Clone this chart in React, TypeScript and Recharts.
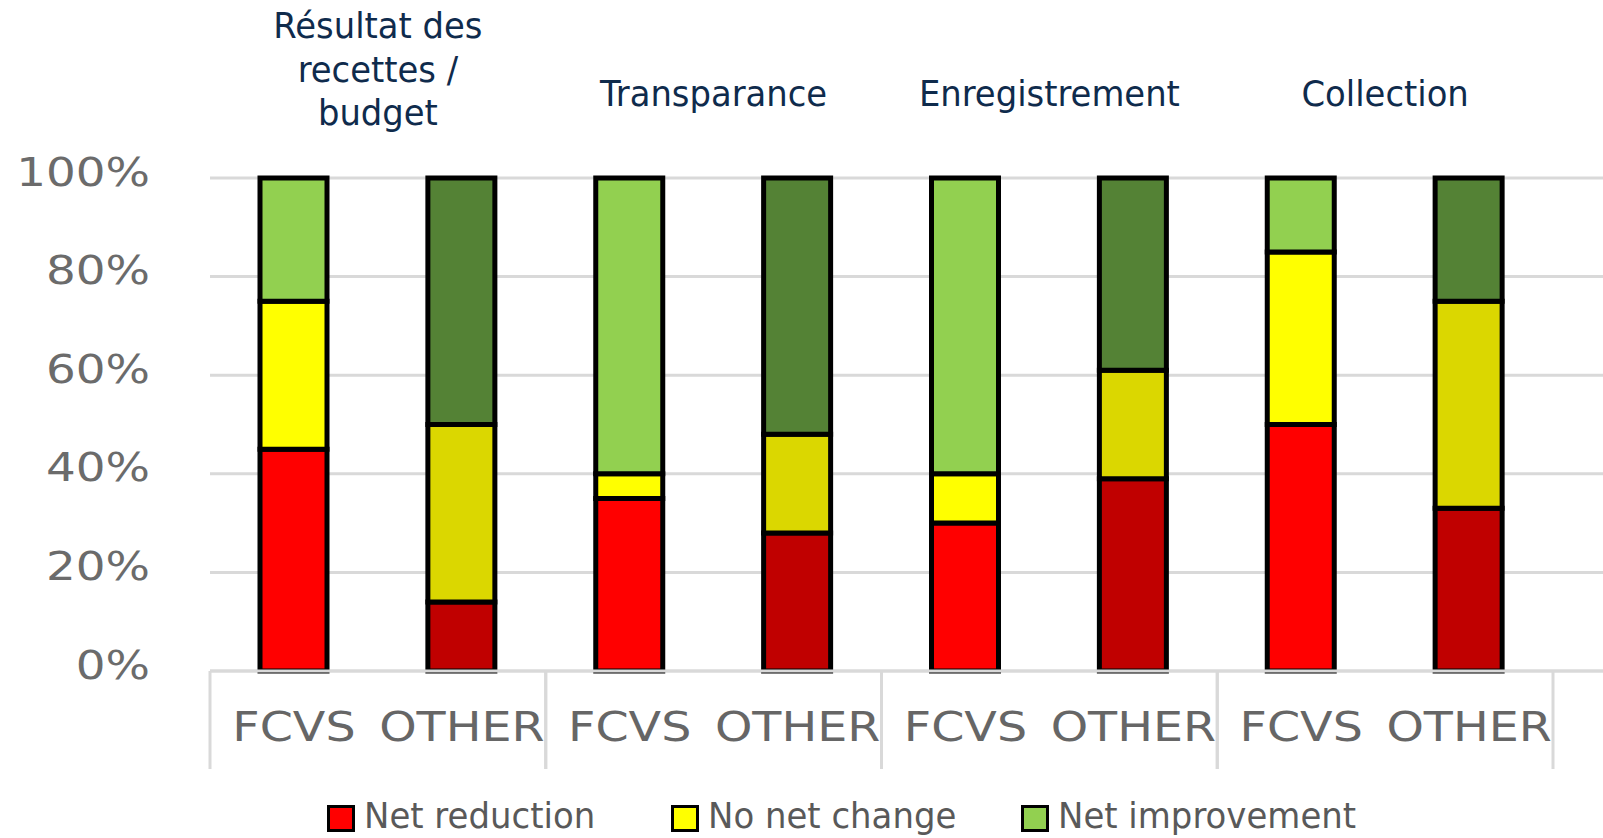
import React from "react";
import { BarChart, Bar, XAxis, YAxis, CartesianGrid, Cell } from "recharts";

// ---- data ----
const GROUP_TITLES: string[][] = [
  ["Résultat des", "recettes /", "budget"],
  ["Transparance"],
  ["Enregistrement"],
  ["Collection"],
];
const SUB_LABELS = ["FCVS", "OTHER"];
const NET_REDUCTION = [45, 14, 35, 28, 30, 39, 50, 33];
const NO_NET_CHANGE = [30, 36, 5, 20, 10, 22, 35, 42];
const NET_IMPROVEMENT = [25, 50, 60, 52, 60, 39, 15, 25];
const Y_TICKS = [0, 20, 40, 60, 80, 100];

const SERIES = [
  { key: "reduction", name: "Net reduction", values: NET_REDUCTION, colors: ["#FF0000", "#C00000"] },
  { key: "nochange", name: "No net change", values: NO_NET_CHANGE, colors: ["#FFFF00", "#DBD700"] },
  { key: "improvement", name: "Net improvement", values: NET_IMPROVEMENT, colors: ["#92D050", "#548235"] },
];

const data = GROUP_TITLES.flatMap((_, gi) =>
  SUB_LABELS.map((sub, si) => {
    const i = gi * SUB_LABELS.length + si;
    const row: any = { id: `${gi}-${sub}`, group: gi, sub, subIndex: si };
    SERIES.forEach((s) => (row[s.key] = s.values[i]));
    return row;
  })
);

// ---- layout ----
const W = 1603;
const H = 838;
const AXIS_Y = 671;
const GRID = "#D9D9D9";
const FONT = "'DejaVu Sans', sans-serif";

const XTick = (props: any) => {
  const { x, index, payload } = props;
  const d = data[index];
  if (!d) return null;
  const half = payload && payload.offset ? payload.offset : 84;
  const titles = GROUP_TITLES[d.group];
  const firstBaseline = titles.length === 1 ? 106 : 38;
  return (
    <g>
      <text
        transform={`translate(${x},741) scale(1.16,1)`}
        textAnchor="middle"
        fontFamily={FONT}
        fontSize={41}
        fill="#666666"
      >
        {d.sub}
      </text>
      {d.subIndex === 0 && (
        <line x1={x - half} x2={x - half} y1={AXIS_Y} y2={769} stroke={GRID} strokeWidth={3} />
      )}
      {d.subIndex === SUB_LABELS.length - 1 && (
        <line x1={x + half} x2={x + half} y1={AXIS_Y} y2={769} stroke={GRID} strokeWidth={3} />
      )}
      {d.subIndex === 0 &&
        titles.map((t, li) => (
          <text
            key={li}
            transform={`translate(${x + half},${firstBaseline + li * 43.5}) scale(0.94,1)`}
            textAnchor="middle"
            fontFamily={FONT}
            fontSize={36}
            fill="#0F2B4C"
          >
            {t}
          </text>
        ))}
    </g>
  );
};

const YTick = (props: any) => {
  const { y, payload } = props;
  return (
    <text
      transform={`translate(150,${y + 7.5}) scale(1.2,1)`}
      textAnchor="end"
      fontFamily={FONT}
      fontSize={39}
      fill="#6B6B6B"
    >
      {`${payload.value}%`}
    </text>
  );
};

const LEGEND_X = [327, 671, 1021];

export default function App() {
  return (
    <div style={{ position: "relative", width: W, height: H }}>
      <style>{`body{margin:0}`}</style>
      <BarChart
        width={W}
        height={H}
        data={data}
        margin={{ top: 178, right: 0, bottom: 0, left: 0 }}
        barSize={67}
      >
        <CartesianGrid horizontal vertical={false} stroke={GRID} strokeWidth={3} />
        <XAxis
          dataKey="id"
          height={H - AXIS_Y}
          interval={0}
          tickLine={false}
          axisLine={{ stroke: GRID, strokeWidth: 3 }}
          padding={{ left: 0, right: 50 }}
          tick={<XTick />}
        />
        <YAxis
          width={210}
          domain={[0, 100]}
          ticks={Y_TICKS}
          axisLine={false}
          tickLine={false}
          tick={<YTick />}
        />
        {SERIES.map((s) => (
          <Bar
            key={s.key}
            dataKey={s.key}
            name={s.name}
            stackId="a"
            stroke="#000000"
            strokeWidth={5}
            isAnimationActive={false}
          >
            {data.map((d, i) => (
              <Cell key={i} fill={s.colors[d.subIndex]} />
            ))}
          </Bar>
        ))}
      </BarChart>
      <svg
        width={W}
        height={H}
        style={{ position: "absolute", left: 0, top: 0, pointerEvents: "none" }}
      >
        {SERIES.map((s, i) => (
          <g key={s.key}>
            <rect
              x={LEGEND_X[i] + 1.5}
              y={806.5}
              width={25}
              height={24}
              fill={s.colors[0]}
              stroke="#000000"
              strokeWidth={3}
            />
            <text
              transform={`translate(${LEGEND_X[i] + 37},828) scale(0.97,1)`}
              fontFamily={FONT}
              fontSize={35}
              fill="#595959"
            >
              {s.name}
            </text>
          </g>
        ))}
      </svg>
    </div>
  );
}
